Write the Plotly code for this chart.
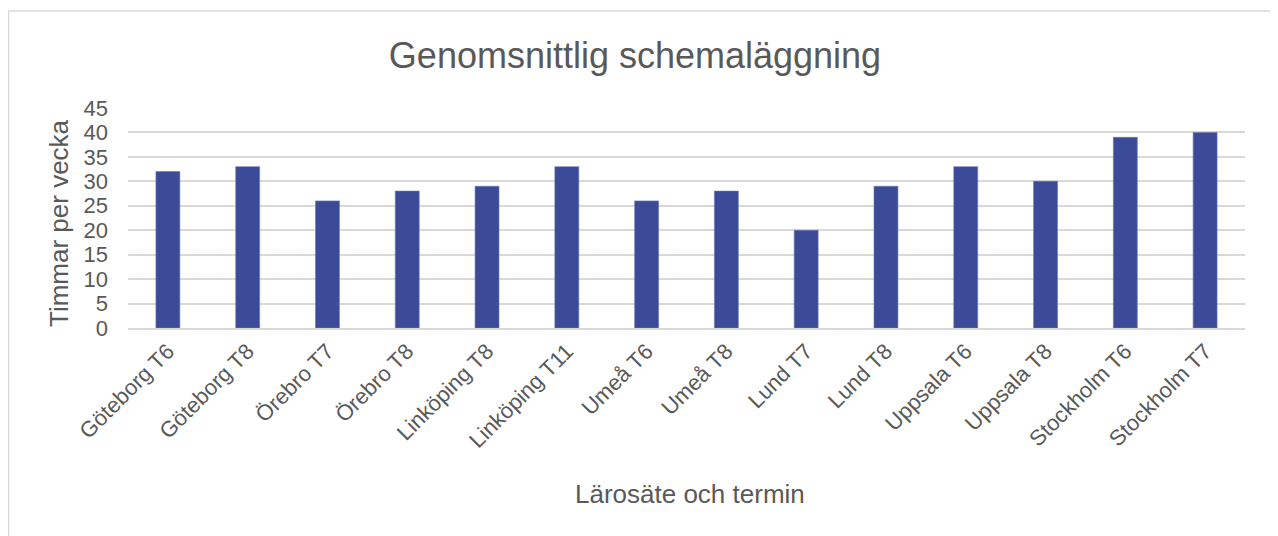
import plotly.graph_objects as go

categories = ["Göteborg T6", "Göteborg T8", "Örebro T7", "Örebro T8", "Linköping T8",
              "Linköping T11", "Umeå T6", "Umeå T8", "Lund T7", "Lund T8",
              "Uppsala T6", "Uppsala T8", "Stockholm T6", "Stockholm T7"]
hours = [32, 33, 26, 28, 29, 33, 26, 28, 20, 29, 33, 30, 39, 40]
y_ticks = [0, 5, 10, 15, 20, 25, 30, 35, 40, 45]

title_text = "Genomsnittlig schemaläggning"
x_title = "Lärosäte och termin"
y_title = "Timmar per vecka"

# page has an 8px body margin, so the figure is sized to fit inside it
W, H = 1270, 528
L, R, T, B = 120, 33, 100, 208
PW, PH = W - L - R, H - T - B

grey = "#595959"
font_family = "Liberation Sans, Arial, sans-serif"


def px_x(x):
    return (x - L) / PW


def px_y(y):
    return (H - B - y) / PH


fig = go.Figure(go.Bar(
    x=categories, y=hours,
    marker=dict(color="#3C4B98", line=dict(color="#6A76B5", width=0.6)),
    width=0.3,
))

fig.update_layout(
    width=W, height=H,
    margin=dict(l=L, r=R, t=T, b=B),
    paper_bgcolor="white", plot_bgcolor="white",
    font=dict(family=font_family, color=grey, size=22),
    showlegend=False,
    title=dict(text=title_text, x=627 / W, xanchor="center",
               y=1 - 47 / H, yanchor="middle",
               font=dict(size=36, color=grey, family=font_family)),
    xaxis=dict(tickangle=-45, tickfont=dict(size=22, color=grey),
               showgrid=False, showline=True, linecolor="#D9D9D9", linewidth=1.5,
               ticks="", fixedrange=True),
    yaxis=dict(range=[0, 45], tickvals=y_ticks, tickfont=dict(size=22, color=grey),
               showgrid=True, gridcolor="#D9D9D9", gridwidth=1.5,
               zeroline=False, showline=False, ticks="", ticklabelstandoff=19,
               fixedrange=True),
    shapes=[dict(type="rect", xref="paper", yref="paper",
                 x0=px_x(0.5), x1=px_x(1268), y0=px_y(600), y1=px_y(3),
                 line=dict(color="#D9D9D9", width=1.5), layer="below")],
    annotations=[
        dict(text=y_title, xref="paper", yref="paper", textangle=-90,
             x=px_x(51), y=px_y(215), xanchor="center", yanchor="middle",
             showarrow=False, font=dict(size=26, color=grey)),
        dict(text=x_title, xref="paper", yref="paper",
             x=px_x(682), y=px_y(486), xanchor="center", yanchor="middle",
             showarrow=False, font=dict(size=26, color=grey)),
    ],
)

fig.write_html("out.html")
